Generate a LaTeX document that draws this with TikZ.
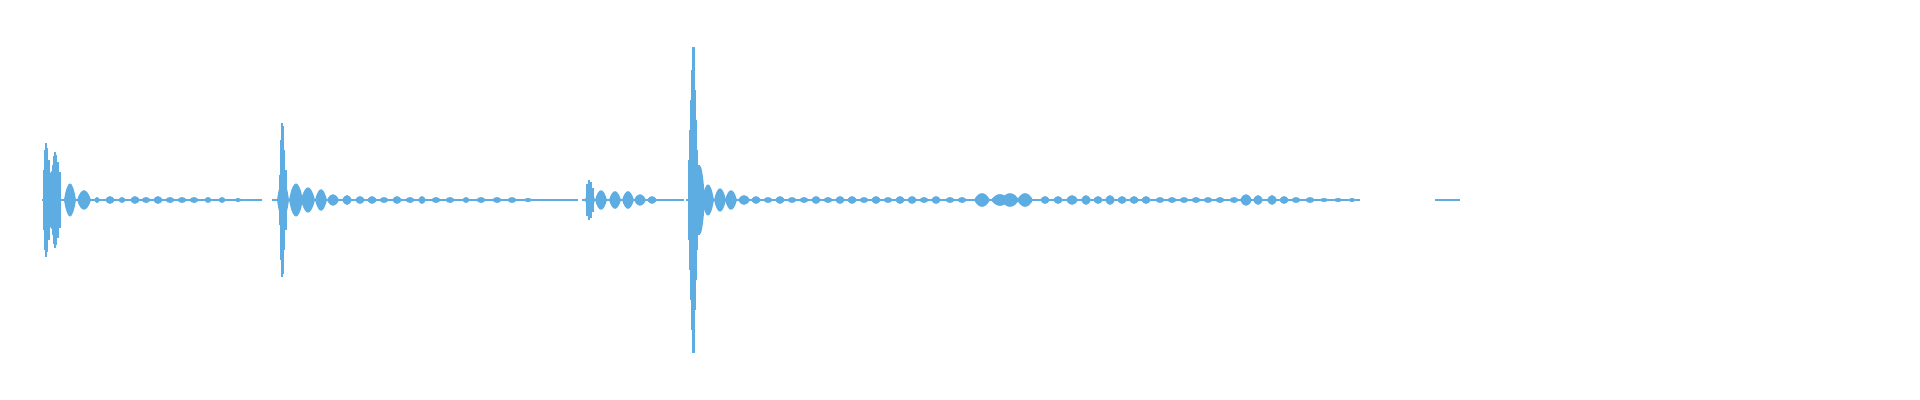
\documentclass[tikz,border=0pt]{standalone}
\usepackage{tikz}
\definecolor{cwave}{rgb}{0.369, 0.678, 0.886}

\begin{document}
\begin{tikzpicture}[x=0.5pt, y=-0.5pt,
    base/.style={cwave, line width=0.6pt},
    spike/.style={cwave, line width=0.6pt},
    lobe/.style={fill=cwave}]

  \useasboundingbox (0, 0) rectangle (1920, 400);

  % centre line, in pieces
  \draw [base] (42, 200) -- (262, 200);
  \draw [base] (272, 200) -- (578, 200);
  \draw [base] (582, 200) -- (684, 200);
  \draw [base] (686, 200) -- (1360, 200);
  \draw [base] (1435, 200) -- (1460, 200);

  % spikes (x / half height)
  \foreach \x/\h in {44/30, 45/50, 46/57, 47/52, 49/40, 51/22, 53/35, 54/44, 55/48, 56/45, 58/38, 60/28,
                     280/25, 281/60, 282/77, 283/74, 284/50, 286/30,
                     587/16, 589/20, 591/18, 593/12,
                     689/40, 690/70, 691/100, 692/130, 693/153, 694/153, 695/110, 696/80, 697/50, 699/35}
    \draw [spike] (\x, 200 - \h) -- (\x, 200 + \h);

  % lobes (x / half width / half height)
  \foreach \x/\w/\h in {52/6/30, 70/6/17, 84/7/10, 97/3/3, 110/5/4, 122/4/3, 135/5/4, 146/5/3,
                        158/5/4, 170/5/3, 182/5/3, 194/5/3, 208/4/3, 222/4/3, 238/4/2,
                        283/6/20, 296/7/17, 308/7/13, 321/6/11, 333/6/6, 347/5/5, 360/5/4,
                        372/5/4, 384/5/3, 397/5/4, 410/5/3, 422/4/4, 436/5/3, 450/5/3,
                        466/4/3, 481/5/3, 497/5/3, 512/5/3, 528/5/2,
                        590/5/10, 601/6/10, 615/6/9, 628/6/9, 640/6/6, 652/5/4,
                        700/5/35, 708/6/16, 720/6/12, 731/6/10, 744/6/5, 756/5/4, 768/5/3,
                        780/5/4, 792/5/3, 804/5/3, 816/5/4, 828/5/3, 840/5/4, 852/5/4,
                        864/5/3, 876/5/4, 888/5/3, 900/5/4, 912/5/4, 924/5/3, 936/5/4,
                        950/5/3, 962/5/3, 982/8/7, 1000/9/6, 1010/9/7, 1025/8/7, 1045/5/4,
                        1058/5/4, 1072/6/5, 1086/5/5, 1098/5/4, 1110/5/5, 1122/5/4,
                        1134/5/4, 1146/5/4, 1160/5/3, 1172/5/3, 1184/5/3, 1196/5/3,
                        1208/5/3, 1220/5/3, 1234/5/3, 1246/6/6, 1258/5/5, 1272/5/5,
                        1284/5/4, 1296/5/3, 1310/5/3, 1324/5/2, 1338/5/2, 1352/4/2}
    \fill [lobe] (\x - \w, 200) .. controls (\x - 0.4*\w, 200 - 1.3*\h) and (\x + 0.4*\w, 200 - 1.3*\h) .. (\x + \w, 200)
                 .. controls (\x + 0.4*\w, 200 + 1.3*\h) and (\x - 0.4*\w, 200 + 1.3*\h) .. cycle;

\end{tikzpicture}
\end{document}
